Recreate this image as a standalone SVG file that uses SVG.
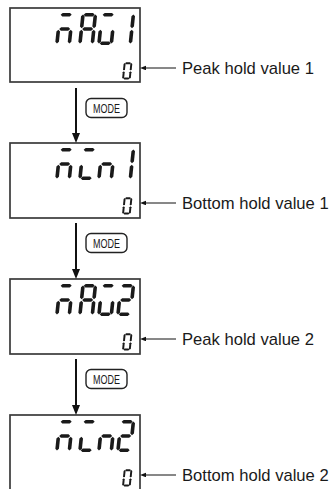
<svg xmlns="http://www.w3.org/2000/svg" xmlns:xlink="http://www.w3.org/1999/xlink" width="334" height="489" viewBox="0 0 334 489">
  <style>
    .lcd { fill: #fff; stroke: #3a3a3a; stroke-width: 1.7; }
    .seg { fill: #1a1a1a; }
    .btn { fill: #fff; stroke: #222; stroke-width: 1.4; }
    .btxt { font-family: "Liberation Sans", Arial, sans-serif; font-size: 13.5px; fill: #1a1a1a; text-anchor: middle; }
    .lbl { font-family: "Liberation Sans", Arial, sans-serif; font-size: 16.6px; fill: #1a1a1a; }
    .flow { stroke: #111; stroke-width: 2; fill: none; marker-end: url(#bigArrow); }
    .lead { stroke: #111; stroke-width: 1; fill: none; marker-end: url(#smallArrow); }
  </style>
  <defs>
    <marker id="bigArrow" markerUnits="userSpaceOnUse" markerWidth="10" markerHeight="8" refX="5" refY="4" orient="auto">
      <path d="M0,0 L10,4 L0,8 Z" fill="#111"/>
    </marker>
    <marker id="smallArrow" markerUnits="userSpaceOnUse" markerWidth="6" markerHeight="5" refX="1" refY="2.25" orient="auto">
      <path d="M0,0 L6,2.25 L0,4.5 Z" fill="#111"/>
    </marker>
    <path id="sa" class="seg" d="M2.5,-30.2 L4.3,-32 H11.7 L13.5,-30.2 L11.7,-28.4 H4.3Z"/>
    <path id="sg" class="seg" d="M2.5,-16 L4.3,-17.8 H11.7 L13.5,-16 L11.7,-14.2 H4.3Z"/>
    <path id="sd" class="seg" d="M2.5,-1.8 L4.3,-3.6 H11.7 L13.5,-1.8 L11.7,0 H4.3Z"/>
    <path id="sf" class="seg" d="M1.8,-30.6 L3.6,-28.8 V-18.6 L1.8,-16.8 L0,-18.6 V-28.8Z"/>
    <path id="se" class="seg" d="M1.8,-15.2 L3.6,-13.4 V-3.2 L1.8,-1.4 L0,-3.2 V-13.4Z"/>
    <path id="sb" class="seg" d="M14.2,-30.6 L16,-28.8 V-18.6 L14.2,-16.8 L12.4,-18.6 V-28.8Z"/>
    <path id="sc" class="seg" d="M14.2,-15.2 L16,-13.4 V-3.2 L14.2,-1.4 L12.4,-3.2 V-13.4Z"/>
    <g id="chM"><use href="#sa"/><use href="#sg"/><use href="#se"/><use href="#sc"/></g>
    <g id="chA"><use href="#sa"/><use href="#sb"/><use href="#sc"/><use href="#se"/><use href="#sf"/><use href="#sg"/></g>
    <g id="chX"><use href="#sa"/><use href="#sc"/><use href="#sd"/><use href="#se"/></g>
    <g id="chI"><use href="#sa"/><use href="#se"/><use href="#sd"/></g>
    <g id="chN"><use href="#sg"/><use href="#se"/><use href="#sc"/></g>
    <g id="ch1"><use href="#sb"/><use href="#sc"/></g>
    <g id="ch2"><use href="#sa"/><use href="#sb"/><use href="#sg"/><use href="#se"/><use href="#sd"/></g>
    <g id="ch0"><use href="#sa"/><use href="#sb"/><use href="#sc"/><use href="#sd"/><use href="#se"/><use href="#sf"/></g>
  </defs>

  <rect width="334" height="489" fill="#fff"/>

  <g id="display-max1">
    <rect class="lcd" x="10" y="8" width="130" height="74"/>
    <use href="#chM" transform="translate(55,45) skewX(-6)"/>
    <use href="#chA" transform="translate(78,45) skewX(-6)"/>
    <use href="#chX" transform="translate(97,45) skewX(-6)"/>
    <use href="#ch1" transform="translate(116,45) skewX(-6)"/>
    <use href="#ch0" transform="translate(122,79.5) skewX(-6) scale(0.54)"/>
  </g>
  <g id="label-peak1">
    <text class="lbl" x="182" y="74">Peak hold value 1</text>
  </g>

  <g id="display-min1">
    <rect class="lcd" x="10" y="143" width="130" height="75"/>
    <use href="#chM" transform="translate(55,180) skewX(-6)"/>
    <use href="#chI" transform="translate(78,180) skewX(-6)"/>
    <use href="#chN" transform="translate(97,180) skewX(-6)"/>
    <use href="#ch1" transform="translate(116,180) skewX(-6)"/>
    <use href="#ch0" transform="translate(122,214.5) skewX(-6) scale(0.54)"/>
  </g>
  <g id="label-bottom1">
    <text class="lbl" x="182" y="209">Bottom hold value 1</text>
  </g>

  <g id="display-max2">
    <rect class="lcd" x="10" y="279" width="130" height="75"/>
    <use href="#chM" transform="translate(55,316) skewX(-6)"/>
    <use href="#chA" transform="translate(78,316) skewX(-6)"/>
    <use href="#chX" transform="translate(97,316) skewX(-6)"/>
    <use href="#ch2" transform="translate(116,316) skewX(-6)"/>
    <use href="#ch0" transform="translate(122,350.5) skewX(-6) scale(0.54)"/>
  </g>
  <g id="label-peak2">
    <text class="lbl" x="182" y="345">Peak hold value 2</text>
  </g>

  <g id="display-min2">
    <rect class="lcd" x="10" y="415" width="130" height="80"/>
    <use href="#chM" transform="translate(55,452) skewX(-6)"/>
    <use href="#chI" transform="translate(78,452) skewX(-6)"/>
    <use href="#chN" transform="translate(97,452) skewX(-6)"/>
    <use href="#ch2" transform="translate(116,452) skewX(-6)"/>
    <use href="#ch0" transform="translate(122,486.5) skewX(-6) scale(0.54)"/>
  </g>
  <g id="label-bottom2">
    <text class="lbl" x="182" y="481">Bottom hold value 2</text>
  </g>

  <g id="mode-1">
    <rect class="btn" x="86" y="98.5" width="41" height="19" rx="5"/>
    <text class="btxt" x="106.5" y="113" textLength="27" lengthAdjust="spacingAndGlyphs">MODE</text>
  </g>
  <g id="mode-2">
    <rect class="btn" x="86" y="233.5" width="41" height="19" rx="5"/>
    <text class="btxt" x="106.5" y="248" textLength="27" lengthAdjust="spacingAndGlyphs">MODE</text>
  </g>
  <g id="mode-3">
    <rect class="btn" x="86" y="369.5" width="41" height="19" rx="5"/>
    <text class="btxt" x="106.5" y="384" textLength="27" lengthAdjust="spacingAndGlyphs">MODE</text>
  </g>

  <g id="connectors">
    <line class="flow" x1="76" y1="88" x2="76" y2="138"/>
    <line class="flow" x1="76" y1="223" x2="76" y2="274"/>
    <line class="flow" x1="76" y1="359" x2="76" y2="410"/>
    <line class="lead" x1="176" y1="68" x2="145" y2="68"/>
    <line class="lead" x1="176" y1="203" x2="145" y2="203"/>
    <line class="lead" x1="176" y1="339" x2="145" y2="339"/>
    <line class="lead" x1="176" y1="475" x2="145" y2="475"/>
  </g>
</svg>
